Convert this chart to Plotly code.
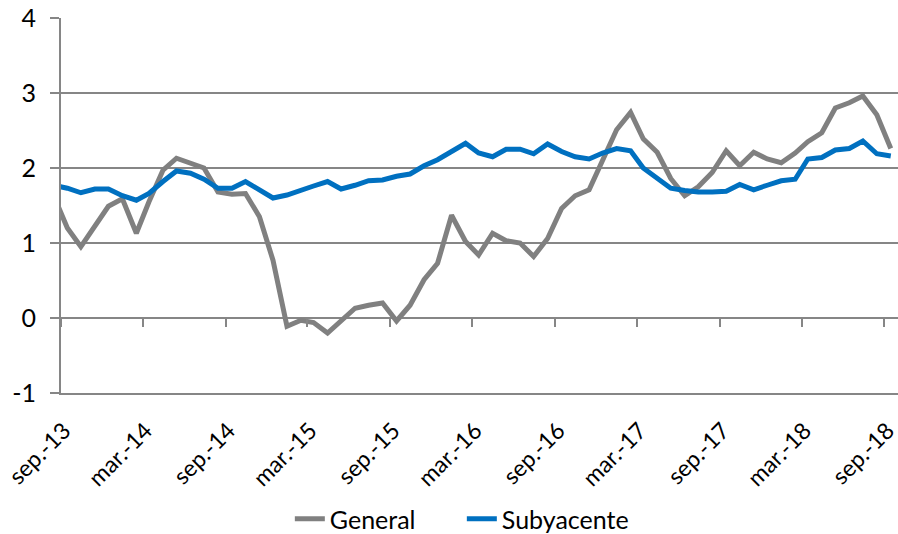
import pandas as pd
import plotly.graph_objects as go

# Monthly data (mid-month), aug-13 .. sep-18 (first point lies left of the axis start)
months = pd.date_range("2013-08-01", periods=62, freq="MS") + pd.Timedelta(days=14)

general = [1.64, 1.20, 0.95, 1.23, 1.49, 1.59, 1.13, 1.55, 1.97, 2.13, 2.07, 2.00,
           1.68, 1.65, 1.66, 1.35, 0.77, -0.11, -0.03, -0.06, -0.20, -0.03, 0.13,
           0.17, 0.20, -0.04, 0.17, 0.51, 0.73, 1.37, 1.02, 0.84, 1.13, 1.03, 1.00,
           0.82, 1.06, 1.46, 1.63, 1.71, 2.11, 2.51, 2.74, 2.39, 2.21, 1.86, 1.63,
           1.75, 1.94, 2.23, 2.03, 2.21, 2.12, 2.07, 2.20, 2.35, 2.47, 2.80, 2.87,
           2.96, 2.71, 2.26]

subyacente = [1.77, 1.73, 1.67, 1.72, 1.72, 1.63, 1.57, 1.66, 1.82, 1.96, 1.93, 1.85,
              1.73, 1.73, 1.82, 1.71, 1.60, 1.64, 1.71, 1.76, 1.82, 1.72, 1.77, 1.83,
              1.84, 1.89, 1.92, 2.03, 2.11, 2.22, 2.33, 2.20, 2.15, 2.25, 2.25, 2.19,
              2.32, 2.22, 2.15, 2.12, 2.20, 2.26, 2.23, 2.00, 1.87, 1.73, 1.70, 1.68,
              1.68, 1.69, 1.78, 1.71, 1.77, 1.83, 1.85, 2.12, 2.14, 2.24, 2.26, 2.36,
              2.19, 2.16]

tick_dates = ["2013-09-01", "2014-03-01", "2014-09-01", "2015-03-01", "2015-09-01",
              "2016-03-01", "2016-09-01", "2017-03-01", "2017-09-01", "2018-03-01",
              "2018-09-01"]
tick_labels = ["sep.-13", "mar.-14", "sep.-14", "mar.-15", "sep.-15", "mar.-16",
               "sep.-16", "mar.-17", "sep.-17", "mar.-18", "sep.-18"]

y_ticks = [-1, 0, 1, 2, 3, 4]
y_labels = ["-1", "0", "1", "2", "3", "4"]

GRAY = "#808080"
BLUE = "#0070C0"
AXIS = "#868686"
FONT = "Lato"
x_range = ["2013-08-31 22:00", "2018-10-01"]

fig = go.Figure()
fig.add_trace(go.Scatter(x=months, y=general, name="General", mode="lines",
                         line=dict(color=GRAY, width=5)))
fig.add_trace(go.Scatter(x=months, y=subyacente, name="Subyacente", mode="lines",
                         line=dict(color=BLUE, width=5)))

fig.update_layout(
    width=898, height=534,
    margin=dict(l=61, r=0, t=18, b=141),
    plot_bgcolor="white", paper_bgcolor="white",
    font=dict(family=FONT, size=25, color="#000000"),
    showlegend=True,
    legend=dict(orientation="h", x=0.2734, xanchor="left",
                yref="container", y=0.028, yanchor="middle",
                font=dict(size=25), entrywidth=127, entrywidthmode="pixels",
                bgcolor="rgba(0,0,0,0)"),
    xaxis=dict(type="date", range=x_range, tickvals=tick_dates, ticktext=tick_labels,
               tickangle=-45, ticks="", showgrid=False, showline=True,
               linecolor=AXIS, linewidth=2, zeroline=False, automargin=False,
               ticklabelshift=3, ticklabelstandoff=13, ticklabeloverflow="allow",
               tickfont=dict(family=FONT, size=23, color="#000000")),
    xaxis2=dict(type="date", range=x_range, tickvals=tick_dates, overlaying="x",
                anchor="free", position=0.2, side="bottom", ticks="outside",
                ticklen=8, tickwidth=2, tickcolor=AXIS, showticklabels=False,
                showgrid=False, showline=False, zeroline=False, automargin=False),
    yaxis=dict(range=[-1, 4], tickvals=y_ticks, ticktext=y_labels, showgrid=True,
               gridcolor=AXIS, gridwidth=2, showline=True, linecolor=AXIS,
               linewidth=2, ticks="outside", ticklen=9, tickwidth=2,
               tickcolor=AXIS, zeroline=False, ticklabelstandoff=9,
               automargin=False,
               tickfont=dict(family=FONT, size=25, color="#000000")),
)
# invisible helper trace so the tick-only axis at y=0 is rendered
fig.add_trace(go.Scatter(x=[months[1]], y=[None], xaxis="x2", showlegend=False,
                         hoverinfo="skip", mode="lines"))

fig.write_html("out.html", config={"displayModeBar": False},
               post_script="document.body.style.margin='0px';")
